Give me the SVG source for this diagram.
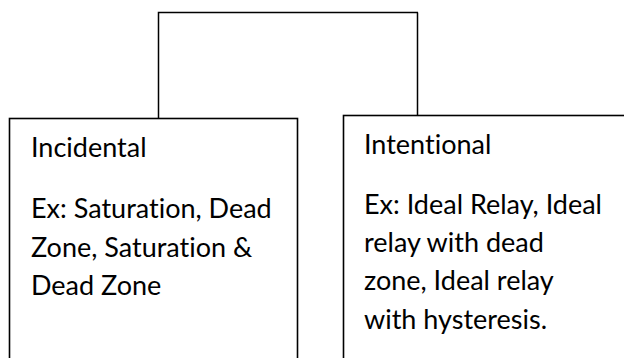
<svg xmlns="http://www.w3.org/2000/svg" width="624" height="358" viewBox="0 0 624 358">
<style>
.box{fill:#fff;stroke:#000;stroke-width:1.6}
.con{fill:none;stroke:#000;stroke-width:1.5}
.t{font-family:Lato,"Liberation Sans",sans-serif;font-size:27px;fill:#000;font-variant-ligatures:none;font-feature-settings:"liga" 0}
</style>
<rect width="624" height="358" fill="#fff"/>
<g id="connectors">
<path class="con" d="M158.5 118 V12.5 H418 M417.5 12.5 V115"/>
</g>
<g id="incidental">
<rect class="box" x="9.5" y="118.5" width="288" height="260"/>
<text class="t" x="31" y="157">Incidental</text>
<text class="t" x="31" y="218">Ex: Saturation, Dead</text>
<text class="t" x="31" y="256.5">Zone, Saturation &amp;</text>
<text class="t" x="31" y="294.5">Dead Zone</text>
</g>
<g id="intentional">
<rect class="box" x="343.5" y="115.5" width="300" height="260"/>
<text class="t" x="364" y="153.5">Intentional</text>
<text class="t" x="364" y="213.5">Ex: Ideal Relay, Ideal</text>
<text class="t" x="364" y="252">relay with dead</text>
<text class="t" x="364" y="290">zone, Ideal relay</text>
<text class="t" x="364" y="328.5">with hysteresis.</text>
</g>
</svg>
